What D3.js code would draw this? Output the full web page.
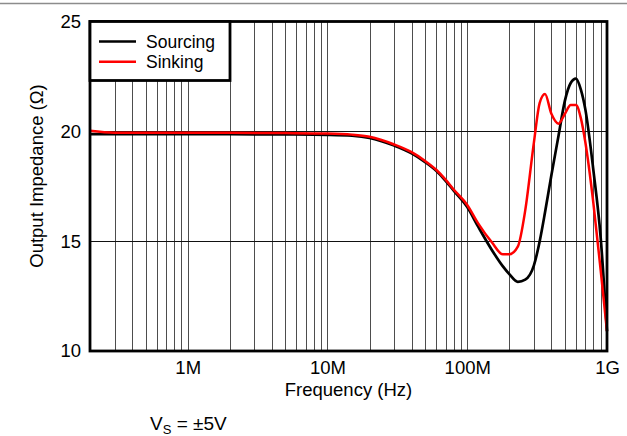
<!DOCTYPE html>
<html>
<head>
<meta charset="utf-8">
<script src="https://cdn.jsdelivr.net/npm/d3@7"></script>
<style>
  html, body { margin: 0; padding: 0; background: #fff; }
  svg { display: block; font-family: Arial, "Liberation Sans", sans-serif; }
</style>
</head>
<body>
<svg id="chart" width="627" height="436"></svg>
<script>
// Frequency grid (Hz)
const frequencies = [2e5, 3e5, 5e5, 1e6, 2e6, 5e6, 1e7, 1.5e7, 2e7, 3e7, 4e7, 5e7, 6e7, 7e7, 8e7, 1e8,
  1.2e8, 1.5e8, 1.8e8, 2e8, 2.3e8, 2.6e8, 3e8, 3.3e8, 3.6e8, 4e8, 4.5e8, 5e8, 5.5e8, 6e8, 6.5e8, 7e8, 8e8, 9e8, 1e9];
// Output impedance (ohm)
const sourcing = [19.87, 19.87, 19.87, 19.87, 19.87, 19.86, 19.84, 19.8, 19.7, 19.35, 19.0, 18.6, 18.2, 17.75, 17.3, 16.55,
  15.65, 14.6, 13.85, 13.5, 13.15, 13.25, 13.9, 15.0, 16.3, 18.0, 19.8, 21.4, 22.2, 22.4, 21.9, 21.0, 18.2, 15.2, 10.9];
const sinking = [20.03, 19.94, 19.93, 19.93, 19.93, 19.92, 19.9, 19.85, 19.75, 19.4, 19.05, 18.65, 18.25, 17.8, 17.35, 16.65,
  15.8, 14.95, 14.4, 14.4, 14.75, 16.4, 19.5, 21.3, 21.7, 20.8, 20.35, 20.8, 21.2, 21.2, 20.6, 19.5, 16.7, 13.7, 10.9];
const xTickValues = [1e6, 1e7, 1e8, 1e9];
const xTickLabels = ["1M", "10M", "100M", "1G"];
const yTickValues = [10, 15, 20, 25];
const seriesNames = ["Sourcing", "Sinking"];
const seriesColors = ["#000000", "#ff0000"];

(function () {
const svg = d3.select("#chart");
const pLeft = 90, pRight = 607, pTop = 21.5, pBottom = 351;
const FS = 18.5;

// header rule
svg.append("line").attr("x1", 0).attr("x2", 627).attr("y1", 3.5).attr("y2", 3.5)
  .attr("stroke", "#8c8c8c").attr("stroke-width", 1.5);

const x = d3.scaleLog().domain([2e5, 1e9]).range([pLeft, pRight]);
const y = d3.scaleLinear().domain([10, 25]).range([pBottom, pTop]);

// vertical grid lines (log minor + major)
const gridX = [];
for (let dec = 1e5; dec < 1e9; dec *= 10) {
  for (let k = 2; k <= 10; k++) {
    const v = dec * k;
    if (v > 2e5 && v < 1e9) gridX.push(v);
  }
}
svg.append("g").selectAll("line").data(gridX).join("line")
  .attr("x1", d => Math.round(x(d)) + 0.5).attr("x2", d => Math.round(x(d)) + 0.5)
  .attr("y1", pTop).attr("y2", pBottom)
  .attr("stroke", "#4d4d4d").attr("stroke-width", 1);

// horizontal grid lines
svg.append("g").selectAll("line").data([15, 20]).join("line")
  .attr("x1", pLeft).attr("x2", pRight)
  .attr("y1", d => Math.round(y(d)) + 0.5).attr("y2", d => Math.round(y(d)) + 0.5)
  .attr("stroke", "#111").attr("stroke-width", 1);

// curves
const line = d3.line()
  .x(d => x(d[0])).y(d => y(d[1]))
  .curve(d3.curveMonotoneX);
const series = [sourcing, sinking];
series.forEach((vals, i) => {
  svg.append("path")
    .datum(frequencies.map((f, j) => [f, vals[j]]))
    .attr("d", line)
    .attr("fill", "none")
    .attr("stroke", seriesColors[i])
    .attr("stroke-width", i === 0 ? 2.7 : 2.5)
    .attr("stroke-linejoin", "round");
});

// frame
svg.append("rect").attr("x", pLeft).attr("y", pTop).attr("width", pRight - pLeft).attr("height", pBottom - pTop)
  .attr("fill", "none").attr("stroke", "#000").attr("stroke-width", 2.8);

// axes (tick labels only)
const xAxis = d3.axisBottom(x).tickValues(xTickValues)
  .tickFormat((d, i) => xTickLabels[i]).tickSize(0).tickPadding(10);
const gx = svg.append("g").attr("transform", `translate(0,${pBottom})`).call(xAxis);
gx.select(".domain").remove();
gx.selectAll("text").attr("font-size", FS).attr("fill", "#000").attr("font-family", "Arial, 'Liberation Sans', sans-serif");

const yAxis = d3.axisLeft(y).tickValues(yTickValues).tickSize(0).tickPadding(9);
const gy = svg.append("g").attr("transform", `translate(${pLeft},0)`).call(yAxis);
gy.select(".domain").remove();
gy.selectAll("text").attr("font-size", FS).attr("fill", "#000").attr("font-family", "Arial, 'Liberation Sans', sans-serif");

// axis titles
svg.append("text").attr("x", (pLeft + pRight) / 2).attr("y", 396)
  .attr("text-anchor", "middle").attr("font-size", FS).text("Frequency (Hz)");
svg.append("text").attr("transform", `translate(43,176) rotate(-90)`)
  .attr("text-anchor", "middle").attr("font-size", FS).text("Output Impedance (Ω)");

// legend
const lg = svg.append("g");
lg.append("rect").attr("x", pLeft).attr("y", pTop).attr("width", 140).attr("height", 59)
  .attr("fill", "#fff").attr("stroke", "#000").attr("stroke-width", 2.8);
seriesNames.forEach((name, i) => {
  const yy = 41.5 + i * 20.3;
  lg.append("line").attr("x1", 99).attr("x2", 136).attr("y1", yy).attr("y2", yy)
    .attr("stroke", seriesColors[i]).attr("stroke-width", 2.6);
  lg.append("text").attr("x", 146).attr("y", yy + 6).attr("font-size", 17.5).text(name);
});

// note
const note = svg.append("text").attr("x", 150).attr("y", 430).attr("font-size", 19);
note.append("tspan").text("V");
note.append("tspan").attr("font-size", 13).attr("dy", 4).text("S");
note.append("tspan").attr("dy", -4).text(" = ±5V");
})();
</script>
</body>
</html>
